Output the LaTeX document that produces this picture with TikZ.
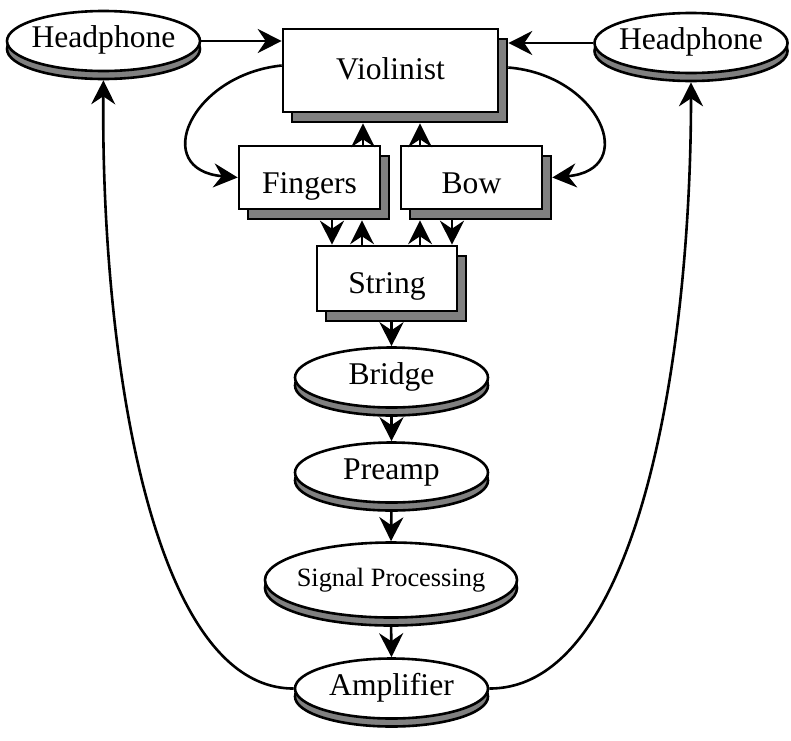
\documentclass[tikz,border=0pt]{standalone}
\usepackage{fontspec}
\setmainfont{LiberationSerif}[Extension=.ttf, UprightFont=*-Regular, BoldFont=*-Bold]
\usetikzlibrary{arrows.meta, shapes.geometric, shadows}
\tikzset{
  every picture/.style={x=0.5pt, y=-0.5pt, line width=1.3pt},
  box/.style={draw, fill=white, inner sep=0pt, minimum width=70.5pt, minimum height=31.5pt,
    text height=15.5pt, text depth=0pt,
    copy shadow={shadow xshift=4.5pt, shadow yshift=-5pt, fill=gray, draw=black, line width=1.3pt}},
  disk/.style={ellipse, draw, fill=white, inner xsep=-3pt, inner ysep=0pt, minimum width=96.5pt, minimum height=30pt,
    text height=0.683em, text depth=0pt,
    copy shadow={shadow xshift=0pt, shadow yshift=-4pt, fill=gray, draw=black, line width=1.3pt}},
  arrow/.style={-{Stealth[length=12pt, width=12pt, inset=4pt]}, line width=1.3pt},
  thin arrow/.style={arrow, line width=0.6pt},
}
\begin{document}
\begin{tikzpicture}[every node/.append style={font=\rmfamily\fontsize{15.8}{18}\selectfont}]
  \useasboundingbox (0,0) rectangle (791,740);
  % player and instrument
  \node[box, minimum width=107.5pt, minimum height=41.5pt, text height=9pt] (vio) at (390.5,70.5) {Violinist};
  \node[box] (fing) at (309.5,177.5) {Fingers};
  \node[box] (bow) at (471.5,177.5) {Bow};
  \node[box, minimum width=70pt, minimum height=32.5pt, text height=14.6pt] (str) at (387,278.5) {String};
  % signal chain
  \node[disk] (bri) at (391.5,377.5) {Bridge};
  \node[disk] (pre) at (391.5,472.5) {Preamp};
  \node[disk, minimum width=126pt, minimum height=37.5pt, font=\rmfamily\fontsize{13.2}{15}\selectfont] (sig) at (391,580) {Signal Processing};
  \node[disk] (amp) at (391.5,688.5) {Amplifier};
  \node[disk] (hpL) at (103.5,41) {Headphone};
  \node[disk] (hpR) at (691,43) {Headphone};
  % connectors
  \draw[arrow] (hpL) -- (hpL -| vio.west);
  \draw[arrow, shorten >=4.5pt] (hpR) -- (hpR -| vio.east);
  \draw[arrow] ([yshift=2.5pt]vio.west) .. controls (190,75) and (150,170) .. (fing.west);
  \draw[arrow] ([xshift=4.5pt, yshift=1.5pt]vio.east) .. controls (600,75) and (640,170) .. ([xshift=4.5pt]bow.east);
  \draw[thin arrow, shorten >=5pt] (363,0 |- fing.north) -- (363,0 |- vio.south);
  \draw[thin arrow, shorten >=5pt] (420,0 |- bow.north) -- (420,0 |- vio.south);
  \draw[arrow, shorten <=5pt] (332,0 |- fing.south) -- (332,0 |- str.north);
  \draw[thin arrow, shorten >=5pt] (362,0 |- str.north) -- (362,0 |- fing.south);
  \draw[thin arrow, shorten >=5pt] (420,0 |- str.north) -- (420,0 |- bow.south);
  \draw[arrow, shorten <=5pt] (452,0 |- bow.south) -- (452,0 |- str.north);
  \draw[arrow, shorten <=5pt] (bri |- str.south) -- (bri.north);
  \draw[arrow, shorten <=4pt] (bri.south) -- (pre.north);
  \draw[arrow, shorten <=4pt] (pre.south) -- (sig.north);
  \draw[arrow, shorten <=4pt] (sig.south) -- (amp.north);
  \draw[arrow, shorten >=4pt] (amp.west) .. controls (150,689) and (101,350) .. (hpL.south);
  \draw[arrow, shorten >=4pt] (amp.east) .. controls (640,689) and (691,350) .. (hpR.south);
\end{tikzpicture}
\end{document}
